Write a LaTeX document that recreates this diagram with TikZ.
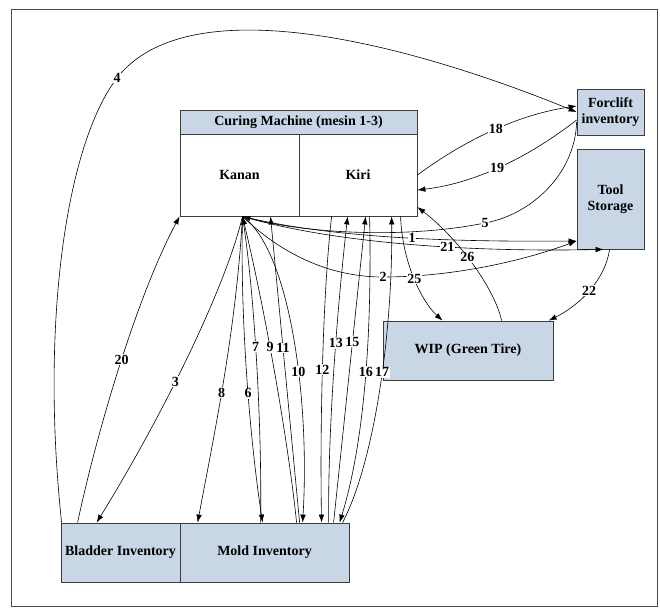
\documentclass[tikz,border=0pt]{standalone}
\usepackage{fontspec}
\setmainfont{Liberation Serif}
\usetikzlibrary{arrows.meta}
\definecolor{boxfill}{RGB}{200,214,230}
\definecolor{boxline}{RGB}{60,60,60}
\begin{document}
\begin{tikzpicture}[x=1pt,y=-1pt]
        	\tikzstyle{box}=[draw=boxline, line width=0.8pt, fill=boxfill, align=center, inner sep=0pt, font=\fontsize{14}{16.5}\selectfont\bfseries]
        	\tikzstyle{flow}=[line width=0.6pt, -{Latex[length=8pt,width=5.5pt]}]
        	\tikzstyle{num}=[fill=white, inner sep=0.8pt, font=\fontsize{14}{16}\selectfont\bfseries]
        	\useasboundingbox (0,0) rectangle (660,607);
        	\draw[line width=0.5pt, black!70] (11,9) rectangle (657,606);
        	% Curing machine
        	\node at (298.5,122) [box, minimum width=237pt, minimum height=24pt] (header) {Curing Machine (mesin 1-3)};
        	\node at (239.5,175) [box, fill=white, minimum width=119pt, minimum height=82pt] (kanan) {Kanan};
        	\node at (358,175) [box, fill=white, minimum width=118pt, minimum height=82pt] (kiri) {Kiri};
        	% Storage
        	\node at (610.5,112) [box, minimum width=67pt, minimum height=46pt] (forclift) {Forclift\\inventory};
        	\node at (610.5,199) [box, minimum width=67pt, minimum height=100pt] (tool) {Tool\\Storage};
        	\node at (468,350.5) [box, minimum width=170pt, minimum height=59pt] (wip) {WIP (Green Tire)};
        	% Inventory
        	\node at (120.5,552.5) [box, minimum width=119pt, minimum height=59pt] (bladder) {Bladder Inventory};
        	\node at (264.5,552.5) [box, minimum width=169pt, minimum height=59pt] (mold) {Mold Inventory};
        	%---------------------%
        	% Bladder <-> Curing / Forclift
        	\draw[flow] ([xshift=1pt]bladder.north west) .. controls (40,320) and (67,143) .. (117,78) node[num]{4} .. controls (187,-12) and (400,40) .. (forclift.west);
        	\draw[flow] ([xshift=17pt]bladder.north west) .. controls (95,440) and (135,300) .. (kanan.south west) node[num,pos=0.53]{20};
        	\draw[flow] ([xshift=3pt]kanan.south) .. controls (225,290) and (160,420) .. ([xshift=36pt]bladder.north west) node[num,pos=0.57]{3};
        	% Kanan <-> Mold
        	\draw[flow] ([xshift=3pt]kanan.south) .. controls (236,330) and (215,430) .. ([xshift=18pt]mold.north west) node[num,pos=0.55]{8};
        	\draw[flow] ([xshift=3pt]kanan.south) .. controls (240,320) and (250,440) .. ([xshift=83pt]mold.north west) node[num,pos=0.55]{6};
        	\draw[flow] ([xshift=81pt]mold.north west) .. controls (262,430) and (255,300) .. ([xshift=3pt]kanan.south) node[num,pos=0.56]{7};
        	\draw[flow] ([xshift=117pt]mold.north west) .. controls (288,440) and (265,310) .. ([xshift=3pt]kanan.south) node[num,pos=0.58]{9};
        	\draw[flow] ([xshift=3pt]kanan.south) .. controls (290,250) and (310,400) .. ([xshift=123pt]mold.north west) node[num,pos=0.6]{10};
        	\draw[flow] ([xshift=120pt]mold.north west) -- ([xshift=31pt]kanan.south) node[num,pos=0.57]{11};
        	% Kiri <-> Mold
        	\draw[flow] ([xshift=33pt]kiri.south west) .. controls (322,300) and (320,440) .. ([xshift=142pt]mold.north west) node[num,pos=0.5]{12};
        	\draw[flow] ([xshift=149pt]mold.north west) .. controls (328,440) and (335,330) .. ([xshift=49pt]kiri.south west) node[num,pos=0.62]{13};
        	\draw[flow] ([xshift=154pt]mold.north west) -- ([xshift=67pt]kiri.south west) node[num,pos=0.59]{15};
        	\draw[flow] ([xshift=71pt]kiri.south west) .. controls (372,330) and (365,440) .. ([xshift=160pt]mold.north west) node[num,pos=0.47]{16};
        	\draw[flow] ([xshift=163pt]mold.north west) .. controls (375,460) and (393,330) .. ([xshift=93pt]kiri.south west) node[num,pos=0.55]{17};
        	% Curing <-> Forclift / Tool
        	\draw[flow] ([yshift=-10pt]forclift.west) .. controls (575,175) and (530,215) .. (485,223) node[num]{5} .. controls (400,240) and (300,232) .. ([xshift=3pt]kanan.south);
        	\draw[flow] ([xshift=3pt]kanan.south) .. controls (330,238) and (450,242) .. ([yshift=-42pt]tool.west) node[num,pos=0.55]{1};
        	\draw[flow] ([xshift=3pt]kanan.south) .. controls (340,245) and (480,252) .. ([xshift=27pt]tool.south west) node[num,pos=0.59]{21};
        	\draw[flow] ([xshift=3pt]kanan.south) .. controls (290,262) and (340,277) .. (383,277) node[num]{2} .. controls (450,277) and (520,262) .. ([yshift=-42pt]tool.west);
        	\draw[flow] (kiri.east) .. controls (469,137) and (522,114) .. ([yshift=6pt]forclift.west) node[num,pos=0.5]{18};
        	\draw[flow] ([yshift=-8pt]forclift.west) .. controls (524,161) and (470,184) .. ([yshift=-15pt]kiri.east) node[num,pos=0.5]{19};
        	% WIP
        	\draw[flow] ([xshift=102pt]kiri.south west) .. controls (402,262) and (422,302) .. ([xshift=60pt]wip.north west) node[num,pos=0.5]{25};
        	\draw[flow] ([xshift=119pt]wip.north west) .. controls (495,290) and (460,240) .. ([yshift=-32pt]kiri.east) node[num,pos=0.56]{26};
        	\draw[flow] ([xshift=33pt]tool.south west) .. controls (605,280) and (580,305) .. ([xshift=166pt]wip.north west) node[num,pos=0.5]{22};
            %---------------------%
\end{tikzpicture}
\end{document}
